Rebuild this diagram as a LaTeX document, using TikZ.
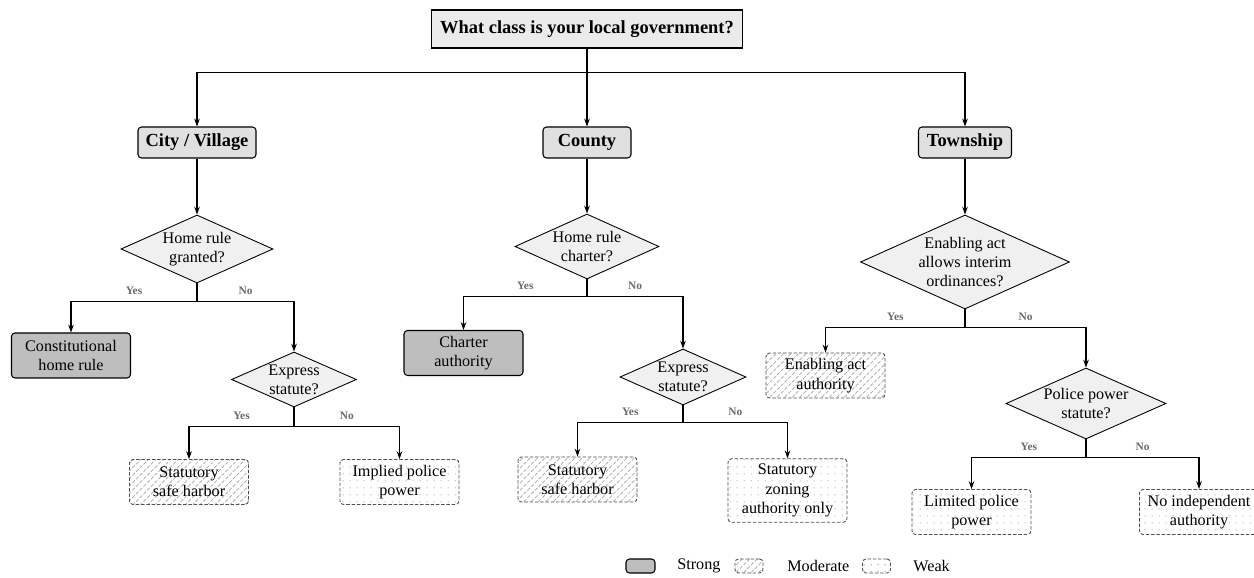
\documentclass[tikz,border=0pt]{standalone}
\usepackage{fontspec}
\setmainfont{Liberation Serif}
\usetikzlibrary{shapes.geometric,arrows.meta,patterns.meta}
\definecolor{titlegray}{HTML}{EBEBEB}
\definecolor{kindgray}{HTML}{E0E0E0}
\definecolor{askgray}{HTML}{F0F0F0}
\definecolor{stronggray}{HTML}{BEBEBE}
\definecolor{dashgray}{HTML}{505050}
\definecolor{lblgray}{HTML}{6A6A6A}
\begin{document}
\begin{tikzpicture}[font=\rmfamily\fontsize{9.2}{11}\selectfont,
		arr/.style={-{Stealth[length=4.5pt,width=3.2pt]}, line width=0.6pt},
		trunk/.style={line width=0.6pt},
		title/.style={draw, fill=titlegray, line width=0.6pt, font=\rmfamily\fontsize{10.5}{12}\selectfont\bfseries, minimum height=0.76cm, inner xsep=4.8pt},
		kind/.style={draw, rounded corners=2pt, fill=kindgray, line width=0.6pt, font=\rmfamily\fontsize{10.5}{12}\selectfont\bfseries, minimum height=0.62cm, inner xsep=4.2pt},
		ask/.style={diamond, aspect=2.2, draw, fill=askgray, line width=0.5pt, inner sep=0pt, align=center, font=\rmfamily\fontsize{9.2}{11}\selectfont},
		outcome/.style={rounded corners=2pt, align=center, minimum width=2.38cm, minimum height=0.9cm, inner sep=3pt, font=\rmfamily\fontsize{9.2}{11}\selectfont},
		strong/.style={outcome, draw, fill=stronggray, line width=0.6pt},
		moderate/.style={outcome, draw=dashgray, line width=0.5pt, dash pattern=on 2pt off 1pt, pattern={Lines[angle=45,distance=3pt,line width=0.4pt]}, pattern color=gray!70},
		weak/.style={outcome, draw=dashgray, line width=0.5pt, dash pattern=on 2pt off 1pt, pattern={Dots[distance=4pt,radius=0.45pt]}, pattern color=gray!65},
		lbl/.style={font=\rmfamily\fontsize{6.5}{7.5}\selectfont\bfseries, text=lblgray, inner sep=1pt, above=2.3pt}]
	\useasboundingbox (0,0) rectangle (25.08,-11.56);
	\node[title] (top) at (11.74,-0.58) {What class is your local government?};
	\node[kind, minimum width=2.36cm] (city) at (3.94,-2.85) {City / Village};
	\node[kind, minimum width=1.76cm] (county) at (11.74,-2.85) {County};
	\node[kind, minimum width=1.86cm] (town) at (19.30,-2.85) {Township};
	\draw[trunk] (top.south) -- ++(0,-0.48) coordinate (topsplit);
	\draw[arr] (topsplit) -| (city.north);
	\draw[arr] (topsplit) -- (county.north);
	\draw[arr] (topsplit) -| (town.north);
	% city / village
	\node[ask, minimum width=3.04cm, minimum height=1.36cm] (cityhome) at (3.94,-4.98) {Home rule\\granted?};
	\node[strong] (cityconst) at (1.42,-7.11) {Constitutional\\home rule};
	\node[ask, minimum width=2.50cm, minimum height=1.10cm] (cityexp) at (5.88,-7.59) {Express\\statute?};
	\node[moderate] (citysafe) at (3.78,-9.64) {Statutory\\safe harbor};
	\node[weak] (cityimpl) at (7.99,-9.64) {Implied police\\power};
	\draw[arr] (city.south) -- (cityhome.north);
	\draw[trunk] (cityhome.south) -- ++(0,-0.36) coordinate (cityhomesplit);
	\draw[arr] (cityhomesplit) -| node[lbl,pos=0.25]{Yes} (cityconst.north);
	\draw[arr] (cityhomesplit) -| node[lbl,pos=0.25]{No} (cityexp.north);
	\draw[trunk] (cityexp.south) -- ++(0,-0.38) coordinate (cityexpsplit);
	\draw[arr] (cityexpsplit) -| node[lbl,pos=0.25]{Yes} (citysafe.north);
	\draw[arr] (cityexpsplit) -| node[lbl,pos=0.25]{No} (cityimpl.north);
	% county
	\node[ask, minimum width=2.88cm, minimum height=1.30cm] (cnthome) at (11.74,-4.93) {Home rule\\charter?};
	\node[strong] (cntcharter) at (9.27,-7.06) {Charter\\authority};
	\node[ask, minimum width=2.52cm, minimum height=1.12cm] (cntexp) at (13.66,-7.54) {Express\\statute?};
	\node[moderate] (cntsafe) at (11.55,-9.59) {Statutory\\safe harbor};
	\node[weak] (cntzone) at (15.75,-9.81) {Statutory\\zoning\\authority only};
	\draw[arr] (county.south) -- (cnthome.north);
	\draw[trunk] (cnthome.south) -- ++(0,-0.34) coordinate (cnthomesplit);
	\draw[arr] (cnthomesplit) -| node[lbl,pos=0.25]{Yes} (cntcharter.north);
	\draw[arr] (cnthomesplit) -| node[lbl,pos=0.25]{No} (cntexp.north);
	\draw[trunk] (cntexp.south) -- ++(0,-0.34) coordinate (cntexpsplit);
	\draw[arr] (cntexpsplit) -| node[lbl,pos=0.25]{Yes} (cntsafe.north);
	\draw[arr] (cntexpsplit) -| node[lbl,pos=0.25]{No} (cntzone.north);
	% township
	\node[ask, minimum width=4.18cm, minimum height=1.88cm] (twnact) at (19.30,-5.24) {Enabling act\\allows interim\\ordinances?};
	\node[moderate] (twnauth) at (16.51,-7.51) {Enabling act\\authority};
	\node[ask, minimum width=3.20cm, minimum height=1.42cm] (twnpol) at (21.72,-8.07) {Police power\\statute?};
	\node[weak] (twnlim) at (19.43,-10.24) {Limited police\\power};
	\node[weak] (twnnone) at (23.98,-10.24) {No independent\\authority};
	\draw[arr] (town.south) -- (twnact.north);
	\draw[trunk] (twnact.south) -- ++(0,-0.36) coordinate (twnactsplit);
	\draw[arr] (twnactsplit) -| node[lbl,pos=0.25]{Yes} (twnauth.north);
	\draw[arr] (twnactsplit) -| node[lbl,pos=0.25]{No} (twnpol.north);
	\draw[trunk] (twnpol.south) -- ++(0,-0.36) coordinate (twnpolsplit);
	\draw[arr] (twnpolsplit) -| node[lbl,pos=0.25]{Yes} (twnlim.north);
	\draw[arr] (twnpolsplit) -| node[lbl,pos=0.25]{No} (twnnone.north);
	% legend
	\node[strong, minimum width=0.58cm, minimum height=0.28cm, inner sep=0pt] (keystrong) at (12.81,-11.32) {};
	\node[anchor=west, inner sep=0pt] (txtstrong) at (13.54,-11.32) {Strong};
	\node[moderate, minimum width=0.56cm, minimum height=0.28cm, inner sep=0pt] (keymod) at (14.98,-11.32) {};
	\node[anchor=west, inner sep=0pt] (txtmod) at (15.74,-11.32) {Moderate};
	\node[weak, minimum width=0.56cm, minimum height=0.28cm, inner sep=0pt] (keyweak) at (17.53,-11.32) {};
	\node[anchor=west, inner sep=0pt] (txtweak) at (18.26,-11.32) {Weak};
\end{tikzpicture}
\end{document}
